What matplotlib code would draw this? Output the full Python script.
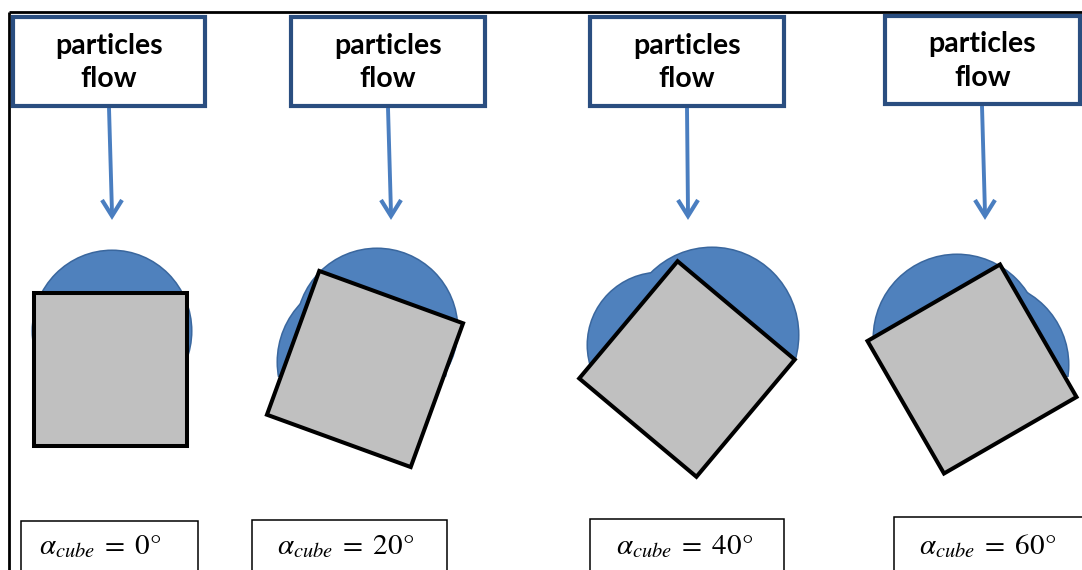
"""Particles flow onto a cube at four incidence angles."""
import matplotlib
matplotlib.use('Agg')
import matplotlib.pyplot as plt
import matplotlib.patches as mpatches
import numpy as np

plt.rcParams['mathtext.fontset'] = 'stix'

# data
angles = [0, 20, 40, 60]                      # cube rotation, degrees
box_text = ['particles\nflow'] * 4
labels = [r'$\alpha_{cube}\;=\;%d°$' % a for a in angles]

# layout (pixel coords, y down)
W, H = 1082, 570
cube_x = [110, 365, 687, 972]
cube_y = 369
side = 153
flow_x0 = [13, 291, 590, 885]
flow_x1 = [205, 485, 784, 1080]
flow_y0 = [17, 17, 17, 16]
flow_y1 = [106, 106, 106, 104]
arrow_x0 = [109, 388, 687, 982]
arrow_x1 = [112, 391, 688, 985]
lab_x0 = [21, 252, 590, 894]
lab_x1 = [198, 447, 784, 1095]
lab_y0 = [521, 520, 519, 517]
lab_tx = [100, 346, 685, 988]
# blue blobs behind cube: (dx, dy, width, height, cut) relative to cube centre,
# each blob is cut flat at cube_y + cut
blobs = [
    [(2, -38, 158, 160, 8)],
    [(12, -40, 160, 160, 8), (-3, -7, 168, 168, 8)],
    [(25, -34, 172, 174, -10), (-27, -24, 144, 144, 8)],
    [(-15, -31, 166, 166, -28), (13, -4, 166, 166, 8)],
]

BLUE = '#4F81BD'
BLUE_EDGE = '#3A679E'
NAVY = '#2A4E80'
ARROW = '#4A7EC0'

fig = plt.figure(figsize=(W / 100, H / 100), dpi=100)
ax = fig.add_axes([0, 0, 1, 1])
ax.set_xlim(0, W)
ax.set_ylim(H, 0)
ax.axis('off')

# outer frame
ax.plot([9, W], [12, 12], color='black', lw=2, solid_capstyle='butt')
ax.plot([9, 9], [12, H], color='black', lw=2, solid_capstyle='butt')

for i, ang in enumerate(angles):
    # flow box
    ax.add_patch(mpatches.Rectangle((flow_x0[i], flow_y0[i]), flow_x1[i] - flow_x0[i],
                                    flow_y1[i] - flow_y0[i], facecolor='white',
                                    edgecolor=NAVY, lw=3, zorder=3))
    ax.text((flow_x0[i] + flow_x1[i]) / 2, (flow_y0[i] + flow_y1[i]) / 2 + 1, box_text[i],
            ha='center', va='center', fontsize=20.5, fontweight='bold', family='Lato',
            linespacing=1.36, zorder=4)

    # arrow
    ax.plot([arrow_x0[i], arrow_x1[i]], [flow_y1[i] + 2, 213], color=ARROW, lw=2.8,
            solid_capstyle='butt')
    tip = np.array([arrow_x1[i], 216])
    ax.plot([tip[0] - 10, tip[0], tip[0] + 10], [tip[1] - 16, tip[1], tip[1] - 16],
            color=ARROW, lw=3, solid_joinstyle='miter', solid_capstyle='butt')

    # blue blobs: outlines first, fills on top so inner outlines vanish
    for face, edge, lw, z in [('none', BLUE_EDGE, 2.2, 1), (BLUE, 'none', 0, 1.5)]:
        for dx, dy, w, h, cut in blobs[i]:
            e = mpatches.Ellipse((cube_x[i] + dx, cube_y + dy), w, h, facecolor=face,
                                 edgecolor=edge, lw=lw, zorder=z)
            ax.add_patch(e)
            e.set_clip_path(mpatches.Rectangle((0, 0), W, cube_y + cut,
                                               transform=ax.transData))

    # rotated cube
    t = np.radians(ang)
    rot = np.array([[np.cos(t), -np.sin(t)], [np.sin(t), np.cos(t)]])
    sq = np.array([[-1, -1], [1, -1], [1, 1], [-1, 1]]) * side / 2
    pts = sq @ rot.T + [cube_x[i], cube_y]
    ax.add_patch(mpatches.Polygon(pts, closed=True, facecolor='#C0C0C0',
                                  edgecolor='black', lw=2.9, joinstyle='miter', zorder=2))

    # angle label
    ax.add_patch(mpatches.Rectangle((lab_x0[i], lab_y0[i]), lab_x1[i] - lab_x0[i], 80,
                                    facecolor='white', edgecolor='black', lw=1.1, zorder=3))
    ax.text(lab_tx[i], 546, labels[i], ha='center', va='center', fontsize=21, zorder=4)

fig.savefig('out.png', dpi=100)
